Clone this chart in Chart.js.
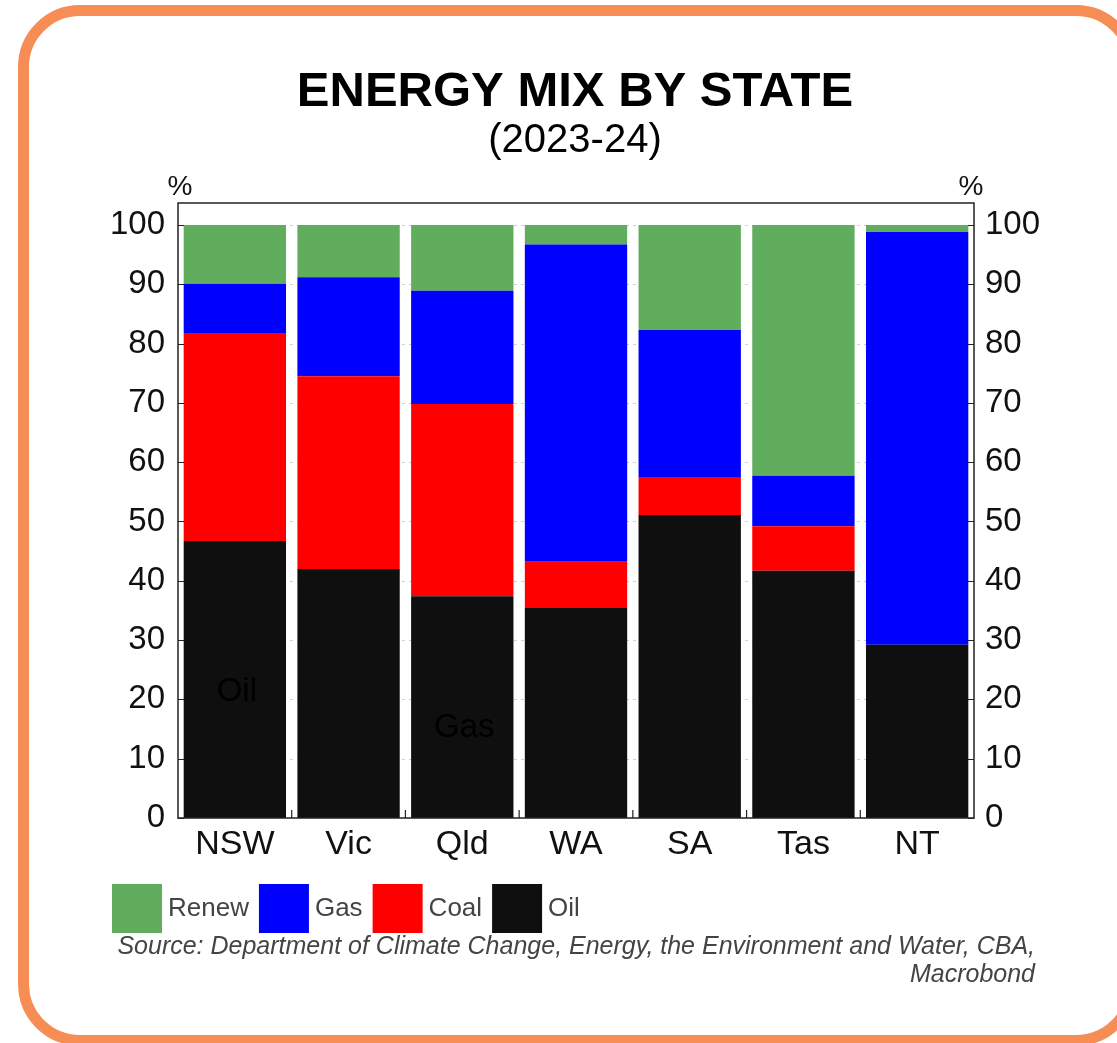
<!DOCTYPE html>
<html>
<head>
<meta charset="utf-8">
<title>Energy mix by state</title>
<script src="https://cdn.jsdelivr.net/npm/chart.js@4.4.1/dist/chart.umd.min.js"></script>
<style>
  html, body { margin: 0; padding: 0; background: #ffffff; overflow: hidden; }
  #frame {
    position: absolute; left: 18px; top: 5px; width: 1120px; height: 1041px;
    box-sizing: border-box; border: 11px solid #F68D55; border-radius: 62px;
  }
  #chart { position: absolute; left: 0; top: 0; }
</style>
</head>
<body>
<div id="frame"></div>
<canvas id="chart" width="1117" height="1043"></canvas>
<script>
// Energy mix by state, 2023-24, per cent of total energy use
const states = ['NSW', 'Vic', 'Qld', 'WA', 'SA', 'Tas', 'NT'];
const oil    = [46.7, 42.0, 37.4, 35.4, 51.1, 41.7, 29.2];
const coal   = [35.1, 32.5, 32.4,  7.8,  6.4,  7.5,  0.0];
const gas    = [ 8.3, 16.7, 19.1, 53.5, 24.8,  8.5, 69.6];
const renew  = [ 9.9,  8.8, 11.1,  3.3, 17.7, 42.3,  1.2];
const yTicks = [0, 10, 20, 30, 40, 50, 60, 70, 80, 90, 100];
const legendOrder = ['Renew', 'Gas', 'Coal', 'Oil'];
// stray series captions sitting inside bars
const notes = [
  { state: 'NSW', value: 21.2, text: 'Oil' },
  { state: 'Qld', value: 15.2, text: 'Gas' }
];
const titleText = 'ENERGY MIX BY STATE';
const subtitleText = '(2023-24)';
const sourceLines = [
  'Source: Department of Climate Change, Energy, the Environment and Water, CBA,',
  'Macrobond'
];

const FONT = "'Liberation Sans', Arial, Helvetica, sans-serif";
const COLORS = { Oil: '#0F0F0F', Coal: '#FF0000', Gas: '#0000FF', Renew: '#61AD5E' };
Chart.defaults.font.family = FONT;

const W = 1117, H = 1043;
const PLOT_LEFT = 178, PLOT_RIGHT = 974, PLOT_TOP = 203, PLOT_BOTTOM = 818;
const Y_MAX = 103.7;

function ds(label, data) {
  return {
    label, data,
    backgroundColor: COLORS[label],
    borderWidth: 0,
    barPercentage: 0.9,
    categoryPercentage: 1.0
  };
}

// dashed horizontal grid behind the bars
const gridPlugin = {
  id: 'gridBehind',
  beforeDatasetsDraw(chart) {
    const { ctx, chartArea: a, scales: { y } } = chart;
    ctx.save();
    ctx.strokeStyle = '#cfcfcf';
    ctx.lineWidth = 1;
    ctx.setLineDash([3, 4]);
    yTicks.forEach(v => {
      if (v === 0) return;
      const py = Math.round(y.getPixelForValue(v)) + 0.5;
      ctx.beginPath();
      ctx.moveTo(a.left, py);
      ctx.lineTo(a.right, py);
      ctx.stroke();
    });
    ctx.restore();
  }
};

// plot box with inward tick marks
const boxPlugin = {
  id: 'plotBox',
  afterDatasetsDraw(chart) {
    const { ctx, chartArea: a, scales: { x, y } } = chart;
    ctx.save();
    ctx.strokeStyle = '#222';
    ctx.lineWidth = 1.5;
    ctx.setLineDash([]);
    ctx.strokeRect(a.left, a.top, a.right - a.left, a.bottom - a.top);
    ctx.lineWidth = 1.2;
    ctx.beginPath();
    yTicks.forEach(v => {
      const py = Math.round(y.getPixelForValue(v)) + 0.5;
      ctx.moveTo(a.left, py); ctx.lineTo(a.left + 6, py);
      ctx.moveTo(a.right - 6, py); ctx.lineTo(a.right, py);
    });
    for (let i = 0; i < states.length - 1; i++) {
      const px = (x.getPixelForValue(i) + x.getPixelForValue(i + 1)) / 2;
      ctx.moveTo(px, a.bottom); ctx.lineTo(px, a.bottom - 8);
    }
    ctx.stroke();
    ctx.restore();
  }
};

// titles, unit labels, legend, source and in-bar captions
const textPlugin = {
  id: 'texts',
  afterDraw(chart) {
    const { ctx, scales: { x, y } } = chart;
    ctx.save();
    ctx.fillStyle = '#000';
    ctx.textAlign = 'center';
    ctx.textBaseline = 'alphabetic';
    ctx.font = `bold 49px ${FONT}`;
    ctx.fillText(titleText, 575, 106);
    ctx.font = `40px ${FONT}`;
    ctx.fillText(subtitleText, 575, 152);

    ctx.font = `28px ${FONT}`;
    ctx.fillStyle = '#111';
    ctx.fillText('%', 180, 195);
    ctx.fillText('%', 971, 195);

    // captions inside bars
    ctx.font = `33px ${FONT}`;
    ctx.fillStyle = '#000';
    ctx.textBaseline = 'middle';
    notes.forEach(n => {
      const px = x.getPixelForValue(states.indexOf(n.state));
      const py = y.getPixelForValue(n.value);
      ctx.fillText(n.text, px + 2, py);
    });

    // legend
    ctx.textAlign = 'left';
    ctx.font = `26px ${FONT}`;
    let lx = 112;
    const ly = 884, box = 50;
    legendOrder.forEach(name => {
      ctx.fillStyle = COLORS[name];
      ctx.fillRect(lx, ly, box, 49);
      lx += box + 6;
      ctx.fillStyle = '#444';
      ctx.fillText(name, lx, ly + 25);
      lx += ctx.measureText(name).width + 10;
    });

    // source note
    ctx.textAlign = 'right';
    ctx.textBaseline = 'alphabetic';
    ctx.font = `italic 25px ${FONT}`;
    ctx.fillStyle = '#444';
    ctx.fillText(sourceLines[0], 1035, 954);
    ctx.fillText(sourceLines[1], 1035, 982);
    ctx.restore();
  }
};

const tickFont = { size: 33 };

new Chart(document.getElementById('chart'), {
  type: 'bar',
  data: {
    labels: states,
    datasets: [ds('Oil', oil), ds('Coal', coal), ds('Gas', gas), ds('Renew', renew)]
  },
  options: {
    responsive: false,
    animation: false,
    events: [],
    layout: { padding: { top: PLOT_TOP, left: 0, right: 0, bottom: 0 } },
    plugins: { legend: { display: false }, tooltip: { enabled: false }, title: { display: false } },
    scales: {
      x: {
        stacked: true,
        grid: { display: false, drawTicks: false },
        border: { display: false },
        ticks: { color: '#111', font: { size: 34 }, padding: 6, maxRotation: 0 },
        afterFit(s) { s.height = H - PLOT_BOTTOM; }
      },
      y: {
        stacked: true,
        position: 'left',
        min: 0, max: Y_MAX,
        grid: { display: false, drawTicks: false },
        border: { display: false },
        ticks: { color: '#111', font: tickFont, padding: 13 },
        afterBuildTicks(s) { s.ticks = yTicks.map(v => ({ value: v })); },
        afterFit(s) { s.width = PLOT_LEFT; }
      },
      yRight: {
        type: 'linear',
        position: 'right',
        min: 0, max: Y_MAX,
        grid: { display: false, drawTicks: false },
        border: { display: false },
        ticks: { color: '#111', font: tickFont, padding: 11 },
        afterBuildTicks(s) { s.ticks = yTicks.map(v => ({ value: v })); },
        afterFit(s) { s.width = W - PLOT_RIGHT; }
      }
    }
  },
  plugins: [gridPlugin, boxPlugin, textPlugin]
});
</script>
</body>
</html>
